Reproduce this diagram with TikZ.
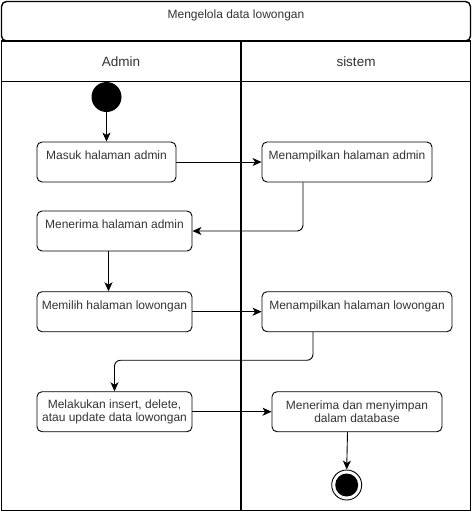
\documentclass[tikz,border=0pt]{standalone}
\usepackage{fontspec}
\setmainfont{Liberation Sans}
\usetikzlibrary{arrows.meta,calc}
\definecolor{txt}{HTML}{333333}
\begin{document}
\begin{tikzpicture}[x=1pt,y=-1pt,
  act/.style={draw, rounded corners=5pt, line width=0.9pt, font=\fontsize{12}{13.5}\selectfont, text=txt, inner xsep=2pt},
  acttop/.style={act, inner ysep=0pt, text height=17.3pt, text depth=22.7pt},
  acttwo/.style={act, align=center, minimum height=40pt, inner ysep=0pt},
  flow/.style={line width=0.9pt, -{Stealth[length=9pt,width=8pt,inset=2.5pt]}, rounded corners=6pt},
  lane/.style={line width=1.4pt},
  hdr/.style={font=\fontsize{13.5}{15}\selectfont, text=txt},
]
\useasboundingbox (0,0) rectangle (472,512);
% frame
\draw[lane, rounded corners=5pt] (1.5,1.5) rectangle (470.5,41);
\draw[lane] (1.5,41) rectangle (470.5,510.5);
\draw[lane] (241,41) -- (241,510.5);
\draw[line width=1pt] (1.5,81) -- (470.5,81);
\node[font=\fontsize{12}{14}\selectfont, text=txt] (title) at (236,15) {Mengelola data lowongan};
\node[hdr] (admin) at (121,61.5) {Admin};
\node[hdr] (sistem) at (356,61.5) {sistem};

% nodes
\node[circle, fill=black, minimum size=30pt, inner sep=0pt] (start) at (106.5,97) {};
\node[acttop, minimum width=139pt] (b1) at (106.5,162) {Masuk halaman admin};
\node[acttop, minimum width=170pt] (b2) at (347,162) {Menampilkan halaman admin};
\node[acttop, minimum width=155pt] (b3) at (114.5,231) {Menerima halaman admin};
\node[acttop, minimum width=155pt] (b4) at (114.5,311.7) {Memilih halaman lowongan};
\node[acttop, minimum width=190pt] (b5) at (357,311.7) {Menampilkan halaman lowongan};
\node[acttwo, minimum width=155pt] (b6) at (114.5,411.7) {Melakukan insert, delete,\\atau update data lowongan};
\node[acttwo, minimum width=170pt] (b7) at (357,411.7) {Menerima dan menyimpan\\dalam database};
\node[circle, draw, line width=0.9pt, fill=white, minimum size=30pt, inner sep=0pt,
  path picture={\fill[black] (path picture bounding box.center) circle (11.5pt);}] (end) at (346.7,485) {};

% connectors
\draw[flow] (start) -- (b1);
\draw[flow] (b1) -- (b2);
\draw[flow] ([xshift=-44pt]b2.south) |- (b3.east);
\draw[flow] ([xshift=-6pt]b3.south) -- ([xshift=-6pt]b4.north);
\draw[flow] (b4) -- (b5);
\draw[flow] ([xshift=-44pt]b5.south) |- ([yshift=31pt]b6.north) -- (b6.north);
\draw[flow] (b6) -- (b7);
\draw[flow] ([xshift=-9.5pt]b7.south) -- (end.north);
\end{tikzpicture}
\end{document}
